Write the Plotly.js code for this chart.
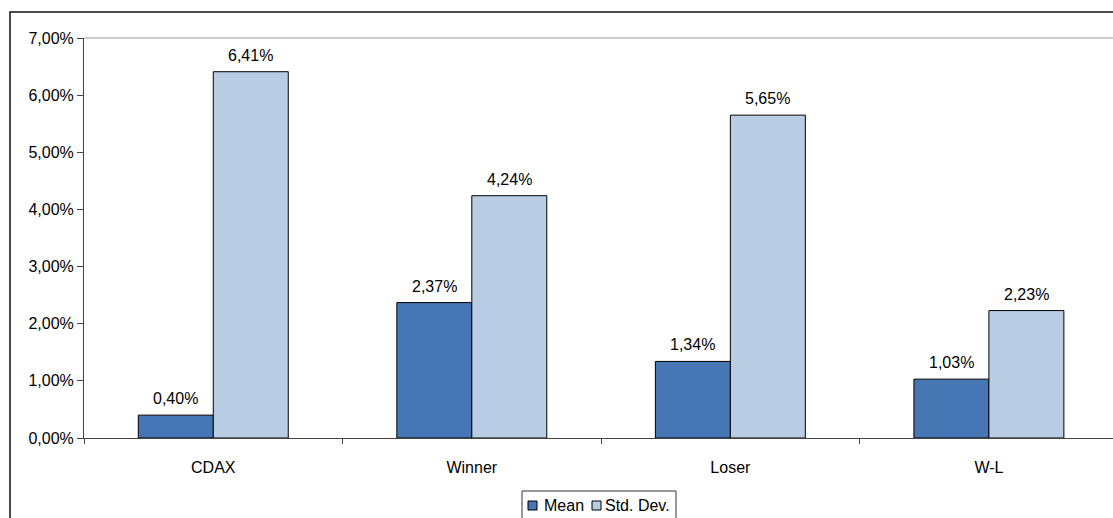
<!DOCTYPE html>
<html>
<head>
<meta charset="utf-8">
<script src="https://cdn.plot.ly/plotly-3.0.1.min.js"></script>
<style>
  html, body { margin: 0; padding: 0; background: #fff; }
  #chart { width: 1113px; height: 518px; }
</style>
</head>
<body>
<div id="chart"></div>
<script>
// Monthly return statistics per portfolio
const categories = ["CDAX", "Winner", "Loser", "W-L"];
const meanValues = [0.0040, 0.0237, 0.0134, 0.0103];
const stdValues  = [0.0641, 0.0424, 0.0565, 0.0223];
const seriesNames = ["Mean", "Std. Dev."];
const yTicks = [0, 0.01, 0.02, 0.03, 0.04, 0.05, 0.06, 0.07];

const font = "Liberation Sans, Arial, sans-serif";
const colors = ["#4676b4", "#b8cce4"];
const W = 1113, H = 518;
const M = { l: 84, r: 0, t: 38, b: 80 };
const plotW = W - M.l - M.r, plotH = H - M.t - M.b;

// pixel position -> paper coordinates (for frame and legend decorations)
const px = x => (x - M.l) / plotW;
const py = y => (H - M.b - y) / plotH;

const traces = [meanValues, stdValues].map((vals, s) => ({
  type: "bar", name: seriesNames[s], x: categories, y: vals,
  marker: { color: colors[s], line: { color: "#000", width: 1 } },
  hoverinfo: "none", showlegend: false
}));

// value labels above each bar, offset by series within the group
const fmt = v => (v * 100).toFixed(2).replace(".", ",") + "%";
const annotations = [];
[meanValues, stdValues].forEach((vals, s) => {
  vals.forEach((v, i) => {
    annotations.push({
      x: i + (s === 0 ? -0.145 : 0.145), y: v, xref: "x", yref: "y",
      text: fmt(v), showarrow: false, yanchor: "bottom", yshift: 6,
      font: { family: font, size: 16, color: "#000" }
    });
  });
});

// compact legend box at the bottom
const shapes = [
  // plot area top edge
  { type: "line", xref: "paper", yref: "paper", x0: 0, x1: 1.01, y0: 1, y1: 1,
    line: { color: "#999", width: 1 } },
  // outer chart frame
  { type: "rect", xref: "paper", yref: "paper",
    x0: px(10), x1: px(1130), y0: py(540), y1: py(12),
    line: { color: "#111", width: 1.5 }, fillcolor: "rgba(0,0,0,0)", layer: "below" },
  // legend frame
  { type: "rect", xref: "paper", yref: "paper",
    x0: px(522), x1: px(676), y0: py(540), y1: py(491),
    line: { color: "#333", width: 1 }, fillcolor: "#fff", layer: "below" }
];
const legendItems = [
  { sx: 528, tx: 542 },
  { sx: 592, tx: 603 }
];
legendItems.forEach((it, s) => {
  shapes.push({ type: "rect", xref: "paper", yref: "paper",
    x0: px(it.sx), x1: px(it.sx + 9), y0: py(510), y1: py(501),
    line: { color: "#000", width: 1 }, fillcolor: colors[s] });
  annotations.push({ xref: "paper", yref: "paper", x: px(it.tx), y: py(505.5),
    xanchor: "left", yanchor: "middle", showarrow: false, text: seriesNames[s],
    font: { family: font, size: 16, color: "#000" } });
});

const layout = {
  width: W, height: H,
  margin: M,
  paper_bgcolor: "#fff", plot_bgcolor: "#fff",
  separators: ",.",
  barmode: "group", bargap: 0.42, bargroupgap: 0,
  font: { family: font, size: 16, color: "#000" },
  showlegend: false,
  xaxis: {
    type: "category", range: [-0.5, 3.48], fixedrange: true,
    showline: true, linecolor: "#444", linewidth: 1,
    ticks: "outside", tickson: "boundaries", ticklen: 5, tickcolor: "#444",
    ticklabelstandoff: 15, showgrid: false, zeroline: false
  },
  yaxis: {
    range: [0, 0.07], tickvals: yTicks, tickformat: ".2%", fixedrange: true,
    showline: true, linecolor: "#444", linewidth: 1,
    ticks: "outside", ticklen: 6, tickcolor: "#444",
    showgrid: false, zeroline: false
  },
  annotations: annotations,
  shapes: shapes
};

Plotly.newPlot("chart", traces, layout, { displayModeBar: false, staticPlot: true });
</script>
</body>
</html>
